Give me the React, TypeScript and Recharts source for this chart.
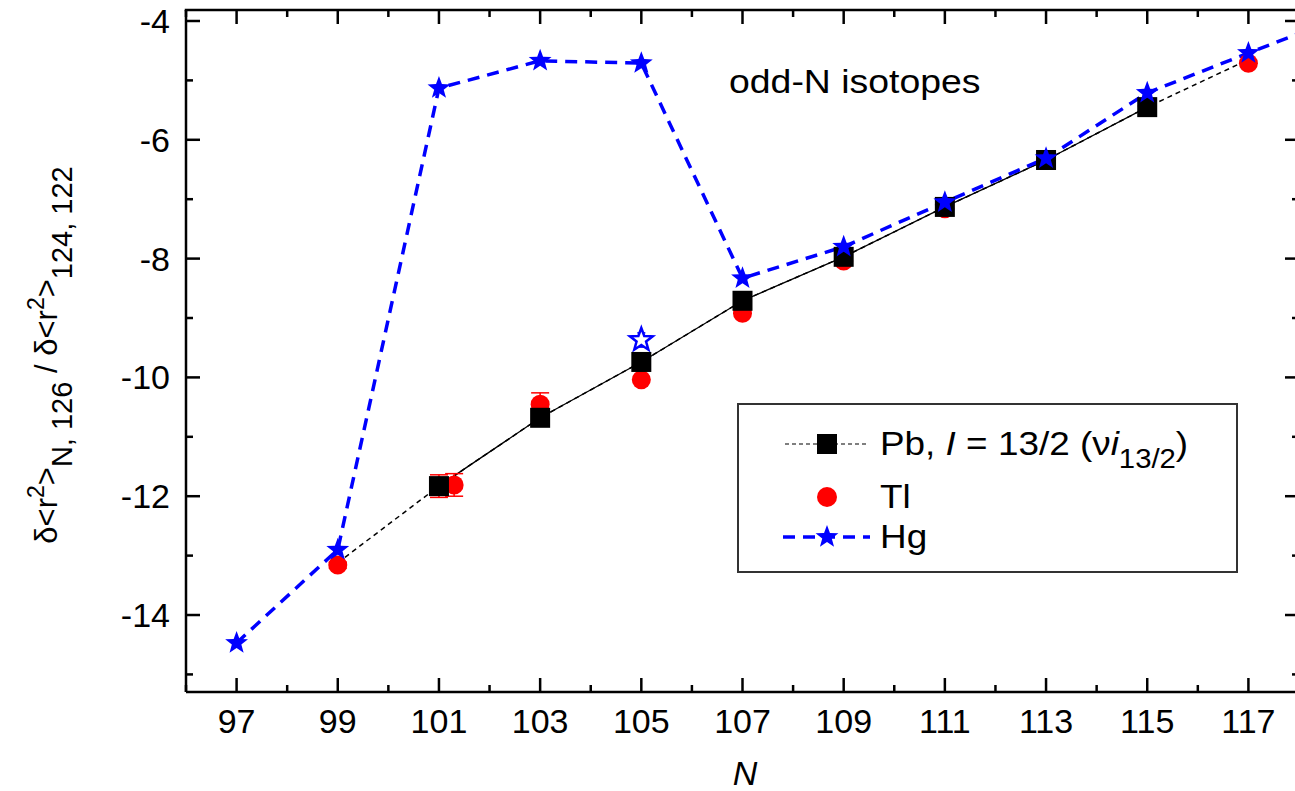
import {
  ComposedChart,
  Line,
  Scatter,
  XAxis,
  YAxis,
  ErrorBar,
  Legend,
} from 'recharts'

const FONT = '"Liberation Sans", Arial, Helvetica, sans-serif'
const BLUE = '#0000ff'
const RED = '#ff0000'

const X_MIN = 96
const X_MAX = 118
const Y_MIN = -15.296
const Y_MAX = -3.815

// chart box
const CHART_W = 1300
const CHART_H = 791
const MARGIN = { top: 10, right: 1, bottom: 0, left: 0 }
const X_AXIS_H = 99
const Y_AXIS_W = 186
const PLOT_X = MARGIN.left + Y_AXIS_W
const PLOT_Y = MARGIN.top
const PLOT_W = CHART_W - MARGIN.left - MARGIN.right - Y_AXIS_W
const PLOT_H = CHART_H - MARGIN.top - MARGIN.bottom - X_AXIS_H

// axis ticks (odd N / even values get labels, the rest are minor ticks)
const N_TICKS = [96, 97, 98, 99, 100, 101, 102, 103, 104, 105, 106, 107, 108, 109, 110, 111, 112, 113, 114, 115, 116, 117, 118]
const R2_TICKS = [-15, -14, -13, -12, -11, -10, -9, -8, -7, -6, -5, -4]

// Pb, I = 13/2 state
const PB_LABEL = 'Pb, I = 13/2 (νi13/2)'
const PB_N = [101, 103, 105, 107, 109, 111, 113, 115]
const PB_R2 = [-11.83, -10.68, -9.74, -8.71, -7.97, -7.13, -6.34, -5.45]
// systematics line through Pb, dashed where it runs past the measured points
const PB_TREND_N = [99, 101, 103, 105, 107, 109, 111, 113, 115, 117]
const PB_TREND_R2 = [-13.12, -11.83, -10.68, -9.74, -8.71, -7.97, -7.13, -6.34, -5.45, -4.65]

// Tl (101 has two entries)
const TL_N = [99, 101, 101.3, 103, 105, 107, 109, 111, 113, 115, 117]
const TL_R2 = [-13.16, -11.83, -11.81, -10.45, -10.04, -8.92, -8.04, -7.16, -6.34, -5.43, -4.71]
const TL_ERR = [0.05, 0.19, 0.19, 0.19, 0, 0, 0, 0, 0, 0, 0]

// Hg ground states
const HG_N = [97, 99, 101, 103, 105, 107, 109, 111, 113, 115, 117, 119]
const HG_R2 = [-14.47, -12.9, -5.13, -4.67, -4.71, -8.33, -7.8, -7.05, -6.31, -5.21, -4.54, -3.88]
// Hg isomer (open star)
const HG_ISO_N = [105]
const HG_ISO_R2 = [-9.37]
const HG_ISO_ERR = [0.12]

const LEGEND_ORDER = [PB_LABEL, 'Tl', 'Hg']

const pbData = PB_N.map((n, i) => ({ n, r2: PB_R2[i] }))
const pbTrendData = PB_TREND_N.map((n, i) => ({ n, r2: PB_TREND_R2[i] }))
const tlData = TL_N.map((n, i) => ({ n, r2: TL_R2[i], err: TL_ERR[i] }))
const hgData = HG_N.map((n, i) => ({ n, r2: HG_R2[i] }))
const hgIsoData = HG_ISO_N.map((n, i) => ({ n, r2: HG_ISO_R2[i], err: HG_ISO_ERR[i] }))

// frame ticks on the top and right edges (decoration only, same linear mapping as the axes)
const frameX = (n: number) => PLOT_X + ((n - X_MIN) / (X_MAX - X_MIN)) * PLOT_W
const frameY = (v: number) => PLOT_Y + ((Y_MAX - v) / (Y_MAX - Y_MIN)) * PLOT_H

function starPoints(cx: number, cy: number, outer: number, inner: number) {
  const pts: string[] = []
  for (let k = 0; k < 10; k++) {
    const r = k % 2 === 0 ? outer : inner
    const a = -Math.PI / 2 + (k * Math.PI) / 5
    pts.push(`${(cx + r * Math.cos(a)).toFixed(2)},${(cy + r * Math.sin(a)).toFixed(2)}`)
  }
  return pts.join(' ')
}

const MAJOR = 14
const MINOR = 7
const AXIS_W = 2.5

function BottomTick({ x, y, payload }: any) {
  const major = payload.value % 2 !== 0
  return (
    <g>
      <line x1={x} x2={x} y1={y} y2={y - (major ? MAJOR : MINOR)} stroke="#000" strokeWidth={AXIS_W} />
      {major && (
        <text x={x} y={y + 41} textAnchor="middle" fontSize={34} fontFamily={FONT} fill="#000">
          {payload.value}
        </text>
      )}
    </g>
  )
}

function LeftTick({ x, y, payload }: any) {
  const major = payload.value % 2 === 0
  return (
    <g>
      <line x1={x} x2={x + (major ? MAJOR : MINOR)} y1={y} y2={y} stroke="#000" strokeWidth={AXIS_W} />
      {major && (
        <text x={x - 16} y={y + 12} textAnchor="end" fontSize={34} fontFamily={FONT} fill="#000">
          {payload.value}
        </text>
      )}
    </g>
  )
}

const ROW_Y = [41, 94, 134]

function ChartLegend({ payload }: any) {
  const items = (payload ?? [])
    .filter((e: any) => LEGEND_ORDER.includes(e.value))
    .sort((a: any, b: any) => LEGEND_ORDER.indexOf(a.value) - LEGEND_ORDER.indexOf(b.value))
  return (
    <svg width={501} height={170} style={{ display: 'block' }}>
      <rect x={1} y={1} width={499} height={168} fill="none" stroke="#333" strokeWidth={2} />
      {items.map((entry: any, i: number) => {
        const cy = ROW_Y[i] ?? 41 + i * 45
        let icon = null
        let text: any = entry.value
        if (entry.value === PB_LABEL) {
          icon = (
            <g>
              <line x1={48} x2={131} y1={cy} y2={cy} stroke="#000" strokeWidth={1.2} strokeDasharray="4 3" />
              <rect x={80} y={cy - 10} width={20} height={20} fill="#000" />
            </g>
          )
          text = (
            <>
              Pb, <tspan fontStyle="italic">I</tspan> = 13/2 (ν<tspan fontStyle="italic">i</tspan>
              <tspan dy={13} fontSize={27}>13/2</tspan>
              <tspan dy={-13}>)</tspan>
            </>
          )
        } else if (entry.value === 'Tl') {
          icon = <circle cx={90} cy={cy} r={10} fill={RED} />
        } else {
          icon = (
            <g>
              <line x1={46} x2={133} y1={cy} y2={cy} stroke={BLUE} strokeWidth={3.5} strokeDasharray="12 8" />
              <polygon points={starPoints(90, cy, 12, 5)} fill={BLUE} />
            </g>
          )
        }
        return (
          <g key={entry.value}>
            {icon}
            <text
              transform={`translate(143,${cy + 11}) scale(1.085,1)`}
              fontSize={34}
              fontFamily={FONT}
              fill="#000"
            >
              {text}
            </text>
          </g>
        )
      })}
    </svg>
  )
}

export default function App() {
  return (
    <div
      style={{
        position: 'absolute',
        left: 0,
        top: 0,
        width: 1295,
        height: 791,
        overflow: 'hidden',
        background: '#fff',
        fontFamily: FONT,
      }}
    >
      <ComposedChart width={CHART_W} height={CHART_H} margin={MARGIN}>
        <XAxis
          type="number"
          dataKey="n"
          domain={[X_MIN, X_MAX]}
          allowDataOverflow
          ticks={N_TICKS}
          interval={0}
          height={X_AXIS_H}
          tickSize={0}
          tickMargin={0}
          tickLine={false}
          tick={(p: any) => <BottomTick {...p} />}
          axisLine={{ stroke: '#000', strokeWidth: AXIS_W }}
        />
        <YAxis
          type="number"
          domain={[Y_MIN, Y_MAX]}
          allowDataOverflow
          ticks={R2_TICKS}
          interval={0}
          width={Y_AXIS_W}
          tickSize={0}
          tickMargin={0}
          tickLine={false}
          tick={(p: any) => <LeftTick {...p} />}
          axisLine={{ stroke: '#000', strokeWidth: AXIS_W }}
        />

        {/* top and right frame with inward ticks */}
        <line
          x1={PLOT_X - AXIS_W / 2}
          x2={PLOT_X + PLOT_W}
          y1={PLOT_Y}
          y2={PLOT_Y}
          stroke="#000"
          strokeWidth={AXIS_W}
        />
        <line
          x1={PLOT_X + PLOT_W}
          x2={PLOT_X + PLOT_W}
          y1={PLOT_Y}
          y2={PLOT_Y + PLOT_H}
          stroke="#000"
          strokeWidth={AXIS_W}
        />
        {N_TICKS.map((n) => (
          <line
            key={`top-${n}`}
            x1={frameX(n)}
            x2={frameX(n)}
            y1={PLOT_Y}
            y2={PLOT_Y + (n % 2 !== 0 ? MAJOR : MINOR)}
            stroke="#000"
            strokeWidth={AXIS_W}
          />
        ))}
        {R2_TICKS.map((v) => (
          <line
            key={`right-${v}`}
            x1={PLOT_X + PLOT_W}
            x2={PLOT_X + PLOT_W - (v % 2 === 0 ? MAJOR : MINOR)}
            y1={frameY(v)}
            y2={frameY(v)}
            stroke="#000"
            strokeWidth={AXIS_W}
          />
        ))}

        <Line
          data={pbTrendData}
          dataKey="r2"
          name="Pb trend"
          legendType="none"
          stroke="#000"
          strokeWidth={1.5}
          strokeDasharray="5 4"
          dot={false}
          activeDot={false}
          isAnimationActive={false}
        />
        <Line
          data={pbData}
          dataKey="r2"
          name={PB_LABEL}
          stroke="#000"
          strokeWidth={1.3}
          dot={(p: any) => (
            <rect key={`pb-${p.index}`} x={p.cx - 10} y={p.cy - 10} width={20} height={20} fill="#000" />
          )}
          activeDot={false}
          isAnimationActive={false}
        />
        <Scatter
          data={tlData}
          dataKey="r2"
          name="Tl"
          fill={RED}
          shape={(p: any) => <circle cx={p.cx} cy={p.cy} r={9.5} fill={RED} />}
          isAnimationActive={false}
        >
          <ErrorBar dataKey="err" direction="y" width={9} stroke={RED} strokeWidth={1.5} />
        </Scatter>
        <Line
          data={hgData}
          dataKey="r2"
          name="Hg"
          stroke={BLUE}
          strokeWidth={3.5}
          strokeDasharray="12 8"
          dot={(p: any) => (
            <polygon key={`hg-${p.index}`} points={starPoints(p.cx, p.cy, 12, 5)} fill={BLUE} />
          )}
          activeDot={false}
          isAnimationActive={false}
        />
        <Scatter
          data={hgIsoData}
          dataKey="r2"
          name="Hg isomer"
          legendType="none"
          fill="#fff"
          shape={(p: any) => (
            <polygon points={starPoints(p.cx, p.cy, 12, 5)} fill="#fff" stroke={BLUE} strokeWidth={2.5} />
          )}
          isAnimationActive={false}
        >
          <ErrorBar dataKey="err" direction="y" width={4} stroke={BLUE} strokeWidth={1.5} />
        </Scatter>

        <Legend
          layout="horizontal"
          verticalAlign="middle"
          align="center"
          content={(props: any) => <ChartLegend {...props} />}
          wrapperStyle={{ position: 'absolute', left: 737, top: 403, width: 501, height: 170 }}
        />

        <text transform="translate(729,93) scale(1.1,1)" fontSize={34} fontFamily={FONT} fill="#000">
          odd-N isotopes
        </text>
        <text x={745} y={785} textAnchor="middle" fontSize={34} fontStyle="italic" fontFamily={FONT} fill="#000">
          N
        </text>
        <text
          transform="translate(57,355) rotate(-90)"
          textAnchor="middle"
          fontSize={31}
          fontFamily={FONT}
          fill="#000"
        >
          δ&lt;r<tspan dy={-13} fontSize={23}>2</tspan>
          <tspan dy={13}>&gt;</tspan>
          <tspan dy={15} fontSize={29}>N, 126</tspan>
          <tspan dy={-15}> / δ&lt;r</tspan>
          <tspan dy={-13} fontSize={23}>2</tspan>
          <tspan dy={13}>&gt;</tspan>
          <tspan dy={15} fontSize={29}>124, 122</tspan>
        </text>
      </ComposedChart>
    </div>
  )
}
